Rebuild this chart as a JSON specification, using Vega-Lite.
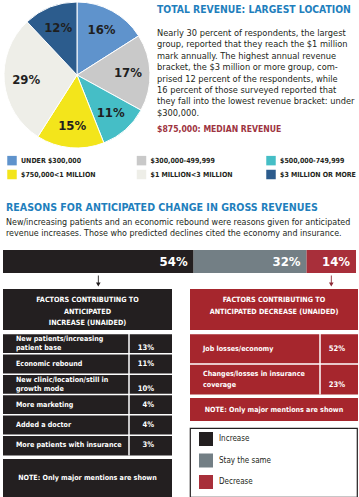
{
  "$schema": "https://vega.github.io/schema/vega-lite/v6.json",
  "padding": {"left": 2, "top": 0, "right": 0, "bottom": 0},
  "background": "white",
  "config": {
    "font": "DejaVu Sans Condensed, sans-serif",
    "view": {"stroke": null}
  },
  "datasets": {
    "revenue": [
      {"bracket": "UNDER $300,000", "share": 0.16, "rank": 1},
      {"bracket": "$300,000-499,999", "share": 0.17, "rank": 2},
      {"bracket": "$500,000-749,999", "share": 0.11, "rank": 3},
      {"bracket": "$750,000<1 MILLION", "share": 0.15, "rank": 4},
      {"bracket": "$1 MILLION<3 MILLION", "share": 0.29, "rank": 5},
      {"bracket": "$3 MILLION OR MORE", "share": 0.12, "rank": 6}
    ],
    "outlook": [
      {"question": "Anticipated change in gross revenues", "outlook": "Increase", "share": 0.54, "rank": 1},
      {"question": "Anticipated change in gross revenues", "outlook": "Stay the same", "share": 0.32, "rank": 2},
      {"question": "Anticipated change in gross revenues", "outlook": "Decrease", "share": 0.14, "rank": 3}
    ],
    "increase": [
      {"factor": "New patients/increasing\npatient base", "share": 0.13, "rank": 1},
      {"factor": "Economic rebound", "share": 0.11, "rank": 2},
      {"factor": "New clinic/location/still in\ngrowth mode", "share": 0.10, "rank": 3},
      {"factor": "More marketing", "share": 0.04, "rank": 4},
      {"factor": "Added a doctor", "share": 0.04, "rank": 5},
      {"factor": "More patients with insurance", "share": 0.03, "rank": 6}
    ],
    "decrease": [
      {"factor": "Job losses/economy", "share": 0.52, "rank": 1},
      {"factor": "Changes/losses in insurance\ncoverage", "share": 0.23, "rank": 2}
    ]
  },
  "spacing": 0,
  "resolve": {"scale": {"color": "independent", "fill": "independent"}, "legend": {"color": "independent", "fill": "independent"}},
  "vconcat": [
    {
      "spacing": 5,
      "resolve": {"scale": {"color": "independent", "fill": "independent"}, "legend": {"color": "independent", "fill": "independent"}},
      "hconcat": [
        {
          "width": 148,
          "height": 150,
          "data": {"name": "revenue"},
          "layer": [
            {
              "mark": {"type": "arc", "outerRadius": 73, "stroke": "white", "strokeWidth": 1},
              "encoding": {
                "theta": {"field": "share", "type": "quantitative", "stack": true},
                "order": {"field": "rank", "type": "quantitative"},
                "fill": {
                  "field": "bracket",
                  "type": "nominal",
                  "scale": {
                    "domain": ["UNDER $300,000", "$300,000-499,999", "$500,000-749,999", "$750,000<1 MILLION", "$1 MILLION<3 MILLION", "$3 MILLION OR MORE"],
                    "range": ["#5f93cc", "#c9c9c9", "#45bec6", "#f3e51b", "#eeeee8", "#2c5c8d"]
                  },
                  "legend": null
                }
              }
            },
            {
              "mark": {"type": "text", "radius": 51, "fontSize": 13, "fontWeight": "bold", "color": "#1f1f1f"},
              "encoding": {
                "theta": {"field": "share", "type": "quantitative", "stack": true},
                "order": {"field": "rank", "type": "quantitative"},
                "detail": {"field": "bracket", "type": "nominal"},
                "text": {"field": "share", "type": "quantitative", "format": ".0%"}
              }
            }
          ]
        },
        {
          "width": 204,
          "height": 150,
          "layer": [
            {
              "data": {"values": [{"line": 0, "text": "TOTAL REVENUE: LARGEST LOCATION"}]},
              "mark": {"type": "text", "align": "left", "baseline": "middle", "dy": -11.6, "fontSize": 10.3, "fontWeight": "bold", "color": "#1f7fbd"},
              "encoding": {
                "x": {"value": 0},
                "y": {"field": "line", "type": "quantitative", "axis": null, "scale": {"domain": [-1.895, 11.263], "reverse": true, "zero": false, "nice": false}},
                "text": {"field": "text", "type": "nominal"}
              }
            },
            {
              "data": {"values": [
                {"line": 1, "text": "Nearly 30 percent of respondents, the largest"},
                {"line": 2, "text": "group, reported that they reach the $1 million"},
                {"line": 3, "text": "mark annually. The highest annual revenue"},
                {"line": 4, "text": "bracket, the $3 million or more group, com-"},
                {"line": 5, "text": "prised 12 percent of the respondents, while"},
                {"line": 6, "text": "16 percent of those surveyed reported that"},
                {"line": 7, "text": "they fall into the lowest revenue bracket: under"},
                {"line": 8, "text": "$300,000."}
              ]},
              "mark": {"type": "text", "align": "left", "baseline": "middle", "fontSize": 9.2, "color": "#231f20"},
              "encoding": {
                "x": {"value": 0},
                "y": {"field": "line", "type": "quantitative", "axis": null, "scale": {"domain": [-1.895, 11.263], "reverse": true, "zero": false, "nice": false}},
                "text": {"field": "text", "type": "nominal"}
              }
            },
            {
              "data": {"values": [{"line": 9, "text": "$875,000: MEDIAN REVENUE"}]},
              "mark": {"type": "text", "align": "left", "baseline": "middle", "dy": 4.8, "fontSize": 8.6, "fontWeight": "bold", "color": "#9e3441"},
              "encoding": {
                "x": {"value": 0},
                "y": {"field": "line", "type": "quantitative", "axis": null, "scale": {"domain": [-1.895, 11.263], "reverse": true, "zero": false, "nice": false}},
                "text": {"field": "text", "type": "nominal"}
              }
            }
          ]
        }
      ]
    },
    {
      "width": 357,
      "height": 40,
      "data": {"name": "revenue"},
      "mark": {"type": "square", "opacity": 0},
      "encoding": {
        "fill": {
          "field": "bracket",
          "type": "nominal",
          "scale": {
            "domain": ["UNDER $300,000", "$300,000-499,999", "$500,000-749,999", "$750,000<1 MILLION", "$1 MILLION<3 MILLION", "$3 MILLION OR MORE"],
            "range": ["#5f93cc", "#c9c9c9", "#45bec6", "#f3e51b", "#eeeee8", "#2c5c8d"]
          },
          "legend": {
            "orient": "none",
            "legendX": 4,
            "legendY": 5.5,
            "columns": 3,
            "direction": "horizontal",
            "title": null,
            "symbolType": "square",
            "symbolSize": 90,
            "symbolOpacity": 1,
            "symbolStrokeWidth": 0,
            "labelFontSize": 7,
            "labelFontWeight": "bold",
            "labelColor": "#231f20",
            "labelOffset": 4,
            "labelLimit": 300,
            "columnPadding": 32.5,
            "rowPadding": 4,
            "gridAlign": "all",
            "padding": 0
          }
        }
      }
    },
    {
      "width": 357,
      "height": 60,
      "layer": [
        {
          "data": {"values": [{"line": 0, "text": "REASONS FOR ANTICIPATED CHANGE IN GROSS REVENUES"}]},
          "mark": {"type": "text", "align": "left", "baseline": "middle", "dy": -3, "fontSize": 10.6, "fontWeight": "bold", "color": "#1f7fbd"},
          "encoding": {
            "x": {"value": 3},
            "y": {"field": "line", "type": "quantitative", "axis": null, "scale": {"domain": [-1.909, 3.545], "reverse": true, "zero": false, "nice": false}},
            "text": {"field": "text", "type": "nominal"}
          }
        },
        {
          "data": {"values": [
            {"line": 1, "text": "New/increasing patients and an economic rebound were reasons given for anticipated"},
            {"line": 2, "text": "revenue increases. Those who predicted declines cited the economy and insurance."}
          ]},
          "mark": {"type": "text", "align": "left", "baseline": "middle", "fontSize": 8.9, "color": "#231f20"},
          "encoding": {
            "x": {"value": 3},
            "y": {"field": "line", "type": "quantitative", "axis": null, "scale": {"domain": [-1.909, 3.545], "reverse": true, "zero": false, "nice": false}},
            "text": {"field": "text", "type": "nominal"}
          }
        }
      ]
    },
    {
      "width": 353,
      "height": 23,
      "data": {"name": "outlook"},
      "layer": [
        {
          "mark": {"type": "bar"},
          "encoding": {
            "x": {"field": "share", "type": "quantitative", "stack": "zero", "axis": null, "scale": {"domain": [0, 1], "nice": false}},
            "y": {"field": "question", "type": "nominal", "axis": null, "scale": {"paddingInner": 0, "paddingOuter": 0}},
            "order": {"field": "rank", "type": "quantitative"},
            "color": {
              "field": "outlook",
              "type": "nominal",
              "scale": {"domain": ["Increase", "Stay the same", "Decrease"], "range": ["#231f20", "#737f85", "#a82f3a"]},
              "legend": null
            }
          }
        },
        {
          "mark": {"type": "text", "align": "right", "baseline": "middle", "dx": -6, "fontSize": 13, "fontWeight": "bold", "color": "white"},
          "encoding": {
            "x": {"field": "share", "type": "quantitative", "stack": "zero"},
            "y": {"field": "question", "type": "nominal", "axis": null},
            "order": {"field": "rank", "type": "quantitative"},
            "detail": {"field": "outlook", "type": "nominal"},
            "text": {"field": "share", "type": "quantitative", "format": ".0%"}
          }
        }
      ]
    },
    {
      "width": 353,
      "height": 16,
      "data": {"name": "outlook"},
      "transform": [
        {"stack": "share", "groupby": [], "sort": [{"field": "rank", "order": "ascending"}], "as": ["s0", "s1"]},
        {"filter": "datum.outlook != 'Stay the same'"},
        {"fold": ["s0", "s1"], "as": ["edge", "pos"]},
        {"aggregate": [{"op": "mean", "field": "pos", "as": "mid"}], "groupby": ["outlook"]}
      ],
      "mark": {"type": "point", "shape": "M-0.08,-1L0.08,-1L0.08,0.25L0.42,0.25L0,1L-0.42,0.25L-0.08,0.25Z", "filled": true, "size": 121, "opacity": 1, "strokeWidth": 0},
      "encoding": {
        "x": {"field": "mid", "type": "quantitative", "axis": null, "scale": {"domain": [0, 1], "nice": false}},
        "color": {
          "field": "outlook",
          "type": "nominal",
          "scale": {"domain": ["Increase", "Stay the same", "Decrease"], "range": ["#231f20", "#737f85", "#8e2a36"]},
          "legend": null
        }
      }
    },
    {
      "spacing": 16,
      "resolve": {"scale": {"color": "independent", "fill": "independent"}, "legend": {"color": "independent", "fill": "independent"}},
      "hconcat": [
        {
          "spacing": 2.5,
          "vconcat": [
            {
              "width": 169,
              "height": 41,
              "view": {"fill": "#231f20", "stroke": null},
              "data": {"values": [{"heading": "FACTORS CONTRIBUTING TO\nANTICIPATED\nINCREASE (UNAIDED)"}]},
              "mark": {"type": "text", "lineBreak": "\n", "lineHeight": 11.5, "fontSize": 7.2, "fontWeight": "bold", "color": "white", "align": "center", "baseline": "middle", "dy": -9.5},
              "encoding": {"text": {"field": "heading", "type": "nominal"}}
            },
            {
              "width": 169,
              "height": 122,
              "view": {"fill": "#231f20", "stroke": null},
              "data": {"name": "increase"},
              "layer": [
                {
                  "mark": {"type": "rule", "color": "white", "strokeWidth": 1.5},
                  "encoding": {
                    "y": {"field": "factor", "type": "nominal", "sort": null, "axis": null, "bandPosition": 0, "scale": {"paddingInner": 0, "paddingOuter": 0}}
                  }
                },
                {
                  "transform": [{"filter": "datum.rank == 1"}],
                  "mark": {"type": "rule", "color": "white", "strokeWidth": 1.5},
                  "encoding": {"x": {"value": 126}}
                },
                {
                  "mark": {"type": "text", "align": "left", "baseline": "middle", "lineBreak": "\n", "lineHeight": 9.5, "fontSize": 7.1, "fontWeight": "bold", "color": "white"},
                  "encoding": {
                    "x": {"value": 13},
                    "y": {"field": "factor", "type": "nominal", "sort": null, "axis": null},
                    "text": {"field": "factor", "type": "nominal"}
                  },
                  "transform": [{"filter": "indexof(datum.factor, '\\n') < 0"}]
                },
                {
                  "mark": {"type": "text", "align": "left", "baseline": "middle", "lineBreak": "\n", "lineHeight": 9.5, "fontSize": 7.1, "fontWeight": "bold", "color": "white", "dy": -4.75},
                  "encoding": {
                    "x": {"value": 13},
                    "y": {"field": "factor", "type": "nominal", "sort": null, "axis": null},
                    "text": {"field": "factor", "type": "nominal"}
                  },
                  "transform": [{"filter": "indexof(datum.factor, '\\n') >= 0"}]
                },
                {
                  "mark": {"type": "text", "align": "right", "baseline": "middle", "fontSize": 7.6, "fontWeight": "bold", "color": "white"},
                  "encoding": {
                    "x": {"value": 151},
                    "y": {"field": "factor", "type": "nominal", "sort": null, "axis": null},
                    "text": {"field": "share", "type": "quantitative", "format": ".0%"}
                  },
                  "transform": [{"filter": "indexof(datum.factor, '\\n') < 0"}]
                },
                {
                  "mark": {"type": "text", "align": "right", "baseline": "middle", "fontSize": 7.6, "fontWeight": "bold", "color": "white", "dy": 4.75},
                  "encoding": {
                    "x": {"value": 151},
                    "y": {"field": "factor", "type": "nominal", "sort": null, "axis": null},
                    "text": {"field": "share", "type": "quantitative", "format": ".0%"}
                  },
                  "transform": [{"filter": "indexof(datum.factor, '\\n') >= 0"}]
                }
              ]
            },
            {
              "width": 169,
              "height": 38,
              "view": {"fill": "#231f20", "stroke": null},
              "data": {"values": [{"note": "NOTE: Only major mentions are shown"}]},
              "mark": {"type": "text", "fontSize": 7.1, "fontWeight": "bold", "color": "white", "align": "center", "baseline": "middle"},
              "encoding": {"text": {"field": "note", "type": "nominal"}}
            }
          ]
        },
        {
          "spacing": 6,
          "resolve": {"scale": {"color": "independent"}, "legend": {"color": "independent"}},
          "vconcat": [
            {
              "spacing": 2.5,
              "vconcat": [
                {
                  "width": 168,
                  "height": 41,
                  "view": {"fill": "#a6262d", "stroke": null},
                  "data": {"values": [{"heading": "FACTORS CONTRIBUTING TO\nANTICIPATED DECREASE (UNAIDED)"}]},
                  "mark": {"type": "text", "lineBreak": "\n", "lineHeight": 11.5, "fontSize": 7.2, "fontWeight": "bold", "color": "white", "align": "center", "baseline": "middle", "dy": -9.5},
                  "encoding": {"text": {"field": "heading", "type": "nominal"}}
                },
                {
                  "width": 168,
                  "height": 61,
                  "view": {"fill": "#a6262d", "stroke": null},
                  "data": {"name": "decrease"},
                  "layer": [
                    {
                      "mark": {"type": "rule", "color": "white", "strokeWidth": 1.5},
                      "encoding": {
                        "y": {"field": "factor", "type": "nominal", "sort": null, "axis": null, "bandPosition": 0, "scale": {"paddingInner": 0, "paddingOuter": 0}}
                      }
                    },
                    {
                      "transform": [{"filter": "datum.rank == 1"}],
                      "mark": {"type": "rule", "color": "white", "strokeWidth": 1.5},
                      "encoding": {"x": {"value": 130}}
                    },
                    {
                      "mark": {"type": "text", "align": "left", "baseline": "middle", "lineBreak": "\n", "lineHeight": 10.5, "fontSize": 7.1, "fontWeight": "bold", "color": "white"},
                      "encoding": {
                        "x": {"value": 13},
                        "y": {"field": "factor", "type": "nominal", "sort": null, "axis": null},
                        "text": {"field": "factor", "type": "nominal"}
                      },
                      "transform": [{"filter": "indexof(datum.factor, '\\n') < 0"}]
                    },
                    {
                      "mark": {"type": "text", "align": "left", "baseline": "middle", "lineBreak": "\n", "lineHeight": 10.5, "fontSize": 7.1, "fontWeight": "bold", "color": "white", "dy": -5.25},
                      "encoding": {
                        "x": {"value": 13},
                        "y": {"field": "factor", "type": "nominal", "sort": null, "axis": null},
                        "text": {"field": "factor", "type": "nominal"}
                      },
                      "transform": [{"filter": "indexof(datum.factor, '\\n') >= 0"}]
                    },
                    {
                      "mark": {"type": "text", "align": "right", "baseline": "middle", "fontSize": 7.6, "fontWeight": "bold", "color": "white"},
                      "encoding": {
                        "x": {"value": 155},
                        "y": {"field": "factor", "type": "nominal", "sort": null, "axis": null},
                        "text": {"field": "share", "type": "quantitative", "format": ".0%"}
                      },
                      "transform": [{"filter": "indexof(datum.factor, '\\n') < 0"}]
                    },
                    {
                      "mark": {"type": "text", "align": "right", "baseline": "middle", "fontSize": 7.6, "fontWeight": "bold", "color": "white", "dy": 5.25},
                      "encoding": {
                        "x": {"value": 155},
                        "y": {"field": "factor", "type": "nominal", "sort": null, "axis": null},
                        "text": {"field": "share", "type": "quantitative", "format": ".0%"}
                      },
                      "transform": [{"filter": "indexof(datum.factor, '\\n') >= 0"}]
                    }
                  ]
                },
                {
                  "width": 168,
                  "height": 23,
                  "view": {"fill": "#a6262d", "stroke": null},
                  "data": {"values": [{"note": "NOTE: Only major mentions are shown"}]},
                  "mark": {"type": "text", "fontSize": 7.1, "fontWeight": "bold", "color": "white", "align": "center", "baseline": "middle"},
                  "encoding": {"text": {"field": "note", "type": "nominal"}}
                }
              ]
            },
            {
              "width": 167,
              "height": 69,
              "view": {"fill": "white", "stroke": "#231f20", "strokeWidth": 1.2},
              "data": {"name": "outlook"},
              "mark": {"type": "square", "opacity": 0},
              "encoding": {
                "color": {
                  "field": "outlook",
                  "type": "nominal",
                  "scale": {"domain": ["Increase", "Stay the same", "Decrease"], "range": ["#231f20", "#737f85", "#a82f3a"]},
                  "legend": {
                    "orient": "none",
                    "legendX": 9,
                    "legendY": 4,
                    "direction": "vertical",
                    "title": null,
                    "symbolType": "square",
                    "symbolSize": 196,
                    "symbolOpacity": 1,
                    "symbolStrokeWidth": 0,
                    "labelFontSize": 8,
                    "labelColor": "#231f20",
                    "labelOffset": 6,
                    "rowPadding": 7.5,
                    "padding": 0
                  }
                }
              }
            }
          ]
        }
      ]
    }
  ]
}
